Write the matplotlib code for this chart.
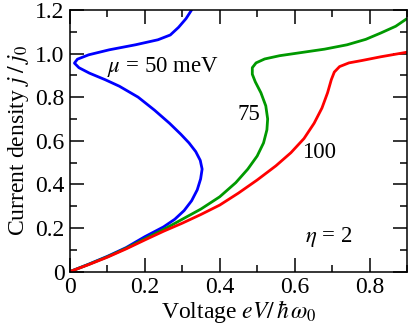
import matplotlib
matplotlib.use("Agg")
import matplotlib.pyplot as plt
from matplotlib.ticker import MultipleLocator, FixedLocator

plt.rcParams['font.family'] = ['Liberation Serif', 'DejaVu Serif']
plt.rcParams['mathtext.fontset'] = 'stix'

# mu = 50 meV (blue)
v50 = [0, 0.05, 0.1, 0.15, 0.2, 0.25, 0.28, 0.305, 0.325, 0.34, 0.349, 0.353, 0.348, 0.336,
       0.318, 0.296, 0.266, 0.226, 0.182, 0.132, 0.094, 0.052, 0.024, 0.012, 0.02, 0.05,
       0.105, 0.175, 0.235, 0.268, 0.29, 0.31, 0.325]
j50 = [0, 0.034, 0.07, 0.11, 0.16, 0.205, 0.24, 0.28, 0.325, 0.375, 0.425, 0.47, 0.51, 0.55,
       0.59, 0.63, 0.68, 0.74, 0.80, 0.85, 0.88, 0.91, 0.935, 0.956, 0.974, 0.994,
       1.017, 1.04, 1.063, 1.085, 1.12, 1.16, 1.2]
# mu = 75 meV (green)
v75 = [0, 0.05, 0.1, 0.15, 0.2, 0.25, 0.3, 0.35, 0.4, 0.443, 0.475, 0.5, 0.517, 0.526, 0.528,
       0.523, 0.51, 0.495, 0.487, 0.487, 0.497, 0.52, 0.56, 0.62, 0.68, 0.74, 0.79, 0.83,
       0.87, 0.9]
j75 = [0, 0.033, 0.068, 0.107, 0.15, 0.193, 0.24, 0.287, 0.343, 0.408, 0.47, 0.53, 0.59, 0.65,
       0.70, 0.76, 0.82, 0.87, 0.905, 0.935, 0.957, 0.975, 0.99, 1.005, 1.02, 1.04, 1.065,
       1.094, 1.125, 1.16]
# mu = 100 meV (red)
v100 = [0, 0.05, 0.1, 0.15, 0.2, 0.25, 0.3, 0.35, 0.4, 0.45, 0.5, 0.55, 0.59, 0.625, 0.652,
        0.673, 0.688, 0.698, 0.706, 0.72, 0.745, 0.78, 0.83, 0.9]
j100 = [0, 0.032, 0.066, 0.104, 0.145, 0.185, 0.222, 0.262, 0.305, 0.36, 0.42, 0.485, 0.545,
        0.61, 0.68, 0.75, 0.82, 0.88, 0.915, 0.94, 0.957, 0.968, 0.985, 1.006]

fig = plt.figure(figsize=(4.09, 3.30), dpi=100)
ax = fig.add_axes([0.171, 0.177, 0.824, 0.793])

lw = 2.0
kw = dict(lw=lw, solid_joinstyle='round', solid_capstyle='round')
ax.plot(v50, j50, color='#0000ff', **kw)
ax.plot(v75, j75, color='#009900', **kw)
ax.plot(v100, j100, color='#ff0000', **kw)

ax.set_xlim(0, 0.9)
ax.set_ylim(0, 1.2)
ax.xaxis.set_major_locator(FixedLocator([0, 0.2, 0.4, 0.6, 0.8]))
ax.yaxis.set_major_locator(FixedLocator([0, 0.2, 0.4, 0.6, 0.8, 1.0, 1.2]))
ax.set_xticklabels(['0', '0.2', '0.4', '0.6', '0.8'])
ax.set_yticklabels(['0', '0.2', '0.4', '0.6', '0.8', '1.0', '1.2'])
ax.xaxis.set_minor_locator(MultipleLocator(0.1))
ax.yaxis.set_minor_locator(MultipleLocator(0.1))
ax.tick_params(which='both', direction='in', top=True, right=True, width=1.1, labelsize=17)
ax.tick_params(which='major', length=10, pad=4)
ax.tick_params(which='minor', length=5)
for s in ax.spines.values():
    s.set_linewidth(1.1)

ax.set_xlabel(r'Voltage $eV/\,\hbar\,\omega_0$', fontsize=17, labelpad=0)
ax.set_ylabel(r'Current density $j\;/\;j_0$', fontsize=17, labelpad=3)

ax.text(0.10, 0.94, r'$\mu$ = 50 meV', fontsize=16.5, ha='left', va='center')
ax.text(0.477, 0.72, '75', fontsize=16.5, ha='center', va='center')
ax.text(0.664, 0.545, '100', fontsize=16.5, ha='center', va='center')
ax.text(0.69, 0.16, r'$\eta$ = 2', fontsize=16.5, ha='center', va='center')

fig.savefig('out.png', dpi=100)
